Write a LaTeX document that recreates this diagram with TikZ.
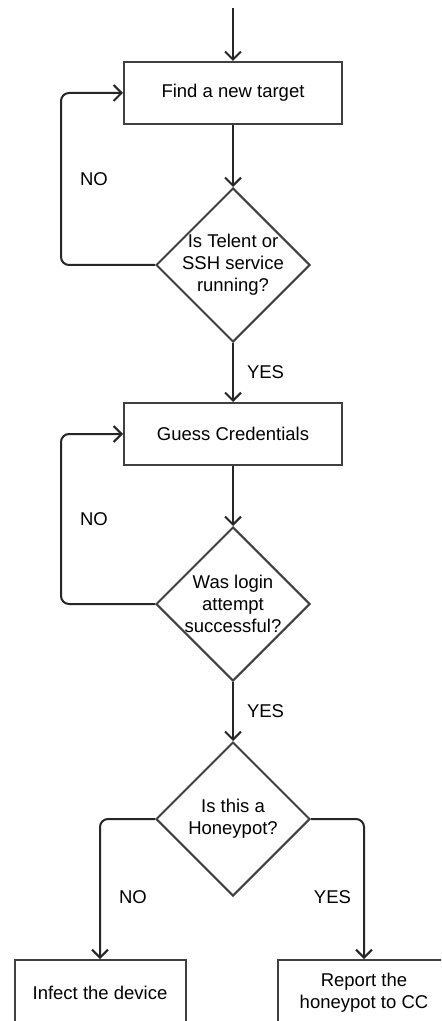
\documentclass[tikz,border=0pt]{standalone}
\usepackage{fontspec}
\setmainfont{Liberation Sans}
\usepackage{tikz}
\usetikzlibrary{shapes.geometric, arrows.meta, positioning, calc}

\begin{document}
\begin{tikzpicture}[node distance=30pt, auto, >={Straight Barb[length=4pt,width=8pt]}, font=\fontsize{9.25pt}{11pt}\selectfont]
        \tikzstyle{stepbox} = [rectangle, minimum width=109pt, minimum height=31pt, text centered, draw=black!75, line width=1pt]
        \tikzstyle{test} = [diamond, minimum width=77pt, minimum height=77pt, inner sep=-2pt, align=center, draw=black!75, line width=1pt]
        \tikzstyle{flow} = [->, line width=1pt, draw=black!85, rounded corners=4pt]
        \tikzstyle{ans} = [inner sep=0pt]

        % page frame, the last two boxes run over its edge
        \clip (0,0) rectangle (220.5pt,-510.5pt);

        \coordinate (start) at (116.5pt, -4pt);
        \node (find) [stepbox] at (116.5pt, -46.5pt) {Find a new target};
        \node (svc) [test, below=31pt of find] {Is Telent or\\SSH service\\running?};
        \node (guess) [stepbox, below=29.5pt of svc] {Guess Credentials};
        \node (login) [test, below=30pt of guess] {Was login\\attempt\\successful?};
        \node (honey) [test, below=29.5pt of login] {Is this a\\Honeypot?};
        \node (infect) [stepbox, minimum width=85.5pt, minimum height=33pt] at ($(honey) + (-66.5pt, -87pt)$) {Infect the device};
        \node (report) [stepbox, minimum width=86pt, minimum height=33pt, align=center] at ($(honey) + (65.5pt, -87pt)$) {Report the\\honeypot to CC};

        % Loop-back points
        \coordinate (back1) at ($(find.west) + (-31pt, 0)$);
        \coordinate (back2) at ($(guess.west) + (-31pt, 0)$);

        % Main line
        \draw [flow] (start) -- (find);
        \draw [flow] (find) -- (svc);
        \draw [flow] (svc) -- node [ans, right=6.5pt] {YES} (guess);
        \draw [flow] (guess) -- (login);
        \draw [flow] (login) -- node [ans, right=6.5pt] {YES} (honey);

        % NO loops
        \draw [flow] (svc.west) -| (back1) node [ans, pos=0.75, right=9pt] {NO} -- (find.west);
        \draw [flow] (login.west) -| (back2) node [ans, pos=0.75, right=9pt] {NO} -- (guess.west);

        % Honeypot branches
        \draw [flow] (honey.west) -| node [ans, pos=0.78, right=9pt] {NO} (infect.north);
        \draw [flow] (honey.east) -| node [ans, pos=0.78, left=6pt] {YES} (report.north);
    \end{tikzpicture}
\end{document}
